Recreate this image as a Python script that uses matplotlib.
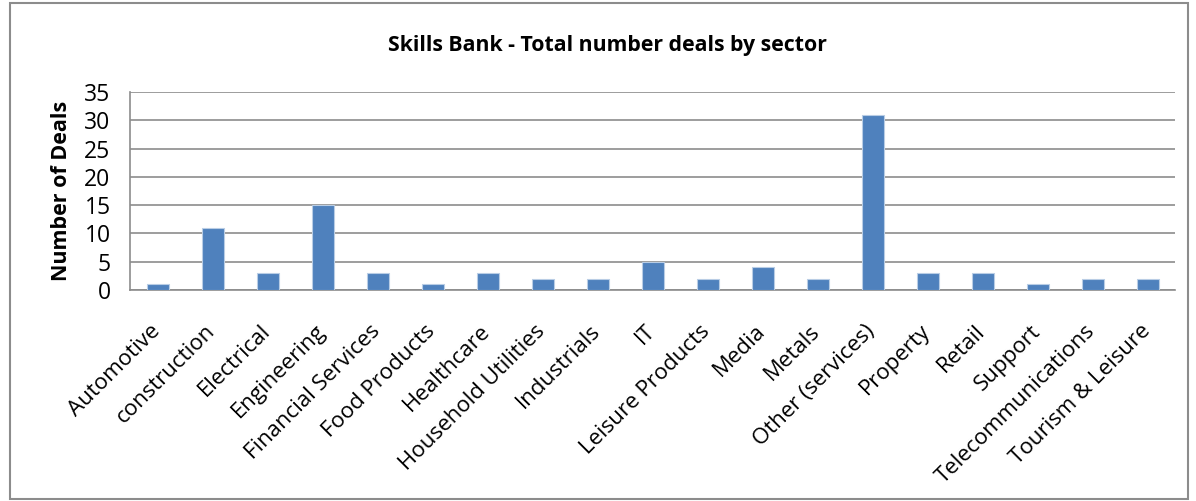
import matplotlib
matplotlib.use("Agg")
import matplotlib.pyplot as plt
from matplotlib.patches import Rectangle
from matplotlib.transforms import ScaledTranslation

categories = ["Automotive", "construction", "Electrical", "Engineering", "Financial Services",
              "Food Products", "Healthcare", "Household Utilities", "Industrials", "IT",
              "Leisure Products", "Media", "Metals", "Other (services)", "Property", "Retail",
              "Support", "Telecommunications", "Tourism & Leisure"]
deals = [1, 11, 3, 15, 3, 1, 3, 2, 2, 5, 2, 4, 2, 31, 3, 3, 1, 2, 2]
yticks = [0, 5, 10, 15, 20, 25, 30, 35]

plt.rcParams['font.family'] = ['Open Sans', 'DejaVu Sans']

W, H = 1196, 501
fig = plt.figure(figsize=(W/100, H/100), dpi=100)
ax = fig.add_axes([130/W, 1 - 290/H, (1175-130)/W, (290-92)/H])

x = list(range(len(categories)))
ax.bar(x, deals, width=0.4, color='#4F81BD', edgecolor='#B9CDE5', linewidth=0.8, zorder=3)
ax.set_xlim(-0.5, len(categories) - 0.5)
ax.set_ylim(0, 35)
ax.set_yticks(yticks)
ax.set_yticklabels([str(t) for t in yticks], fontsize=16.5)
ax.yaxis.grid(True, color='#8C8C8C', linewidth=1.2, zorder=0)
ax.set_axisbelow(True)
ax.tick_params(axis='y', length=0, pad=14)
ax.tick_params(axis='x', length=0, pad=22)
ax.set_xticks(x)
ax.set_xticklabels(categories, rotation=45, ha='right', va='top', fontsize=16)
offset = ScaledTranslation(7/100, 0, fig.dpi_scale_trans)
for lbl in ax.get_xticklabels():
    lbl.set_transform(lbl.get_transform() + offset)
for s in ['top', 'right']:
    ax.spines[s].set_visible(False)
ax.spines['left'].set_color('#8C8C8C')
ax.spines['bottom'].set_color('#8C8C8C')
ax.spines['left'].set_linewidth(1.2)
ax.spines['bottom'].set_linewidth(1.2)
ax.set_ylabel("Number of Deals", fontsize=15.5, fontweight='bold', labelpad=9)

fig.text(607/W, 1 - 45/H, "Skills Bank - Total number deals by sector", ha='center', va='center',
         fontsize=15.3, fontweight='bold')

fig.patches.append(Rectangle((10/W, 2/H), (1188-10)/W, (498-2)/H, transform=fig.transFigure,
                             fill=False, edgecolor='#8C8C8C', linewidth=1.5))

fig.savefig("out.png", dpi=100)
